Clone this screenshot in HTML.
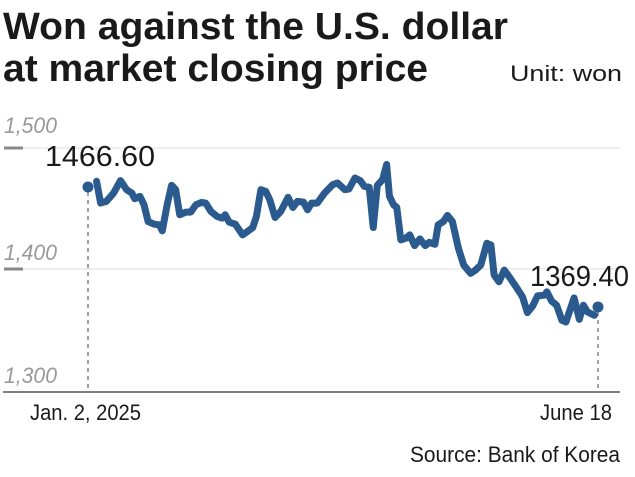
<!DOCTYPE html>
<html><head><meta charset="utf-8"><style>
html,body{margin:0;padding:0;background:#fff;}
svg{display:block;font-family:"Liberation Sans",sans-serif;}
</style></head><body>
<svg width="635" height="477" viewBox="0 0 635 477" xmlns="http://www.w3.org/2000/svg">
<text x="3" y="39" font-size="38" font-weight="bold" fill="#1a1a1a" textLength="505" lengthAdjust="spacingAndGlyphs">Won against the U.S. dollar</text>
<text x="3" y="81" font-size="38" font-weight="bold" fill="#1a1a1a" textLength="425" lengthAdjust="spacingAndGlyphs">at market closing price</text>
<text x="510" y="81" font-size="22" fill="#1a1a1a" textLength="112" lengthAdjust="spacingAndGlyphs">Unit: won</text>
<line x1="23" y1="148" x2="620" y2="148" stroke="#ddd" stroke-width="1"/>
<line x1="23" y1="269" x2="620" y2="269" stroke="#ddd" stroke-width="1"/>
<line x1="4" y1="148" x2="23" y2="148" stroke="#888" stroke-width="3"/>
<line x1="4" y1="269" x2="23" y2="269" stroke="#888" stroke-width="3"/>
<line x1="3" y1="392" x2="620" y2="392" stroke="#555" stroke-width="1.5"/>
<g font-style="italic" font-size="22" fill="#999">
<text x="4" y="133" textLength="53" lengthAdjust="spacingAndGlyphs">1,500</text>
<text x="4" y="260" textLength="53" lengthAdjust="spacingAndGlyphs">1,400</text>
<text x="4" y="383" textLength="53" lengthAdjust="spacingAndGlyphs">1,300</text>
</g>
<line x1="88" y1="192" x2="88" y2="392" stroke="#444" stroke-width="1" stroke-dasharray="4,4"/>
<line x1="598" y1="312" x2="598" y2="392" stroke="#444" stroke-width="1" stroke-dasharray="4,4"/>
<g transform="translate(0,107.6) scale(0.4057,0.335)">
<polyline fill="none" stroke="#2a5a8e" stroke-width="7" stroke-linejoin="round" stroke-linecap="round" vector-effect="non-scaling-stroke" points="238,220 248,285 262,280 280,255 297,218 312,245 325,255 332,272 345,265 355,290 365,340 380,348 393,350 400,368 412,290 423,232 433,245 443,320 458,312 470,312 483,290 497,283 507,285 520,310 535,325 548,330 555,320 565,342 580,348 598,380 612,368 623,358 632,325 643,245 655,250 665,275 678,328 692,310 710,268 722,298 733,280 748,282 758,305 768,285 782,285 800,255 820,230 832,225 850,245 860,243 875,210 888,218 898,235 910,238 920,358 930,232 943,215 953,170 960,265 970,290 978,298 988,395 1000,390 1010,380 1022,412 1035,392 1048,412 1058,402 1072,408 1080,350 1093,340 1103,322 1115,340 1130,420 1143,470 1160,495 1172,485 1185,470 1200,405 1210,410 1218,500 1230,520 1243,485 1258,510 1272,535 1288,565 1300,612 1313,592 1325,562 1342,560 1348,550 1360,578 1372,590 1385,635 1395,640 1415,568 1428,632 1438,590 1448,610 1465,620"/>
</g>
<circle cx="88" cy="187" r="5.5" fill="#2a5a8e"/>
<circle cx="598" cy="307" r="5.5" fill="#2a5a8e"/>
<text x="45" y="166" font-size="29" fill="#1a1a1a" textLength="110" lengthAdjust="spacingAndGlyphs">1466.60</text>
<text x="530" y="286" font-size="29" fill="#1a1a1a" textLength="99" lengthAdjust="spacingAndGlyphs">1369.40</text>
<text x="30" y="420" font-size="22" fill="#1a1a1a" textLength="111" lengthAdjust="spacingAndGlyphs">Jan. 2, 2025</text>
<text x="540" y="420" font-size="22" fill="#1a1a1a" textLength="72" lengthAdjust="spacingAndGlyphs">June 18</text>
<text x="410" y="462" font-size="22" fill="#1a1a1a" textLength="210" lengthAdjust="spacingAndGlyphs">Source: Bank of Korea</text>
</svg>
</body></html>
